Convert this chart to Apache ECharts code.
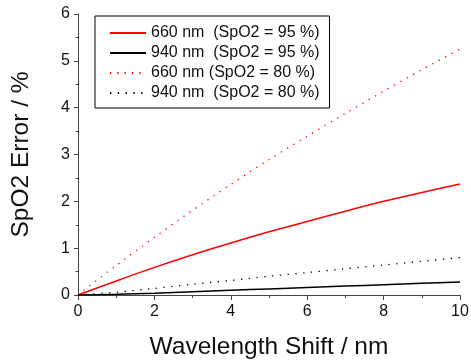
<!DOCTYPE html>
<html>
<head>
<meta charset="utf-8">
<script src="https://cdn.jsdelivr.net/npm/echarts@6/dist/echarts.min.js"></script>
<style>
  html, body { margin: 0; padding: 0; background: #fff; }
  #chart { width: 471px; height: 362px; }
</style>
</head>
<body>
<div id="chart"></div>
<script>
// wavelength shift (nm)
const shift = [0, 1, 2, 3, 4, 5, 6, 7, 8, 9, 10];
// SpO2 error (%)
const red95 = [0, 0.30, 0.59, 0.86, 1.11, 1.35, 1.57, 1.79, 2.00, 2.19, 2.37];
const ir95 = [0, 0.015, 0.04, 0.07, 0.10, 0.13, 0.16, 0.19, 0.22, 0.25, 0.28];
const red80 = [0, 0.63, 1.23, 1.81, 2.36, 2.89, 3.39, 3.88, 4.35, 4.81, 5.25];
const ir80 = [0, 0.06, 0.14, 0.23, 0.31, 0.40, 0.48, 0.56, 0.64, 0.72, 0.80];
const names = ['660 nm  (SpO2 = 95 %)', '940 nm  (SpO2 = 95 %)', '660 nm (SpO2 = 80 %)', '940 nm  (SpO2 = 80 %)'];

const font = 'Arial, "Liberation Sans", sans-serif';
const pairs = (ys) => shift.map((x, i) => [x, ys[i]]);

const mk = (name, ys, color, type) => ({
  name: name,
  type: 'line',
  data: pairs(ys),
  symbol: 'none',
  smooth: 0.3,
  color: color,
  lineStyle: { color: color, width: type === 'solid' ? 1.5 : 1.3, type: type },
});

const chart = echarts.init(document.getElementById('chart'));
chart.setOption({
  animation: false,
  grid: { left: 78, right: 11, top: 14, bottom: 67, outerBoundsMode: 'none' },
  legend: {
    orient: 'vertical',
    left: 95,
    top: 16,
    padding: [9, 10, 7, 14],
    itemWidth: 36,
    itemHeight: 14,
    itemGap: 4,
    borderColor: '#000',
    borderWidth: 1,
    itemStyle: { opacity: 0 },
    textStyle: { fontFamily: font, fontSize: 16, color: '#111', lineHeight: 16 },
    data: names,
  },
  xAxis: {
    type: 'value',
    min: 0,
    max: 10,
    interval: 2,
    name: 'Wavelength Shift / nm',
    nameLocation: 'middle',
    nameGap: 40,
    nameTextStyle: { fontFamily: font, fontSize: 24.5, color: '#111' },
    axisLine: { lineStyle: { color: '#444', width: 1 } },
    axisTick: { length: 5, lineStyle: { color: '#444' } },
    minorTick: { show: true, splitNumber: 2, length: 3, lineStyle: { color: '#444' } },
    splitLine: { show: false },
    axisLabel: { fontFamily: font, fontSize: 16, color: '#111', margin: 9 },
  },
  yAxis: {
    type: 'value',
    min: 0,
    max: 6,
    interval: 1,
    name: 'SpO2 Error / %',
    nameLocation: 'middle',
    nameGap: 44,
    nameTextStyle: { fontFamily: font, fontSize: 24.5, color: '#111' },
    axisLine: { show: true, lineStyle: { color: '#444', width: 1 } },
    axisTick: { show: true, length: 4, lineStyle: { color: '#444' } },
    minorTick: { show: true, splitNumber: 2, length: 2.5, lineStyle: { color: '#444' } },
    splitLine: { show: false },
    axisLabel: { fontFamily: font, fontSize: 16, color: '#111', margin: 8 },
  },
  series: [
    mk(names[0], red95, '#ff0000', 'solid'),
    mk(names[1], ir95, '#000000', 'solid'),
    mk(names[2], red80, '#ff0000', [1.3, 6]),
    mk(names[3], ir80, '#000000', [1.3, 6.5]),
  ],
});
</script>
</body>
</html>
